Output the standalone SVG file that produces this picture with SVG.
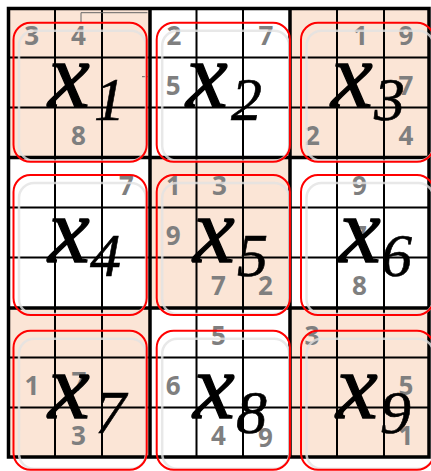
<svg xmlns="http://www.w3.org/2000/svg" width="431" height="471" viewBox="0 0 431 471">
<style>
.peach{fill:#FBE5D6}
.white{fill:#FFFFFF}
.thin{stroke:#000;stroke-width:2;fill:none}
.thick{stroke:#000;stroke-width:3.5;fill:none}
.d{font-family:"Open Sans","Liberation Sans",Arial,sans-serif;font-weight:bold;font-size:26px;fill:#7F7F7F;text-anchor:middle}
.red{fill:none;stroke:#FF0000;stroke-width:2}
.sh{fill:none;stroke:#E2E2E2;stroke-width:2.5;opacity:0.8}
.xv{font-family:"Liberation Serif","Times New Roman",serif;font-style:italic;font-size:94px;fill:#000;stroke:#000;stroke-width:1.3}
.xs{font-family:"Liberation Serif","Times New Roman",serif;font-style:italic;font-size:62px;fill:#000;stroke:#000;stroke-width:0.6}
.art{stroke:#666;stroke-width:1;fill:none}
</style>
<rect width="431" height="471" fill="#FFFFFF"/>
<g id="fills">
<rect class="peach" x="8.5" y="8.5" width="141.5" height="149"/>
<rect class="white" x="150" y="8.5" width="140" height="149"/>
<rect class="peach" x="290" y="8.5" width="139" height="149"/>
<rect class="white" x="8.5" y="157.5" width="141.5" height="150.5"/>
<rect class="peach" x="150" y="157.5" width="140" height="150.5"/>
<rect class="white" x="290" y="157.5" width="139" height="150.5"/>
<rect class="peach" x="8.5" y="308" width="141.5" height="149"/>
<rect class="white" x="150" y="308" width="140" height="149"/>
<rect class="peach" x="290" y="308" width="139" height="149"/>
</g>
<g id="grid">
<path class="thin" d="M55 8.5V457M102 8.5V457M196.5 8.5V457M243 8.5V457M337 8.5V457M384 8.5V457M8.5 57.5H429M8.5 107.5H429M8.5 207.5H429M8.5 257.5H429M8.5 357.5H429M8.5 407.5H429"/>
<path class="thick" d="M150 8.5V457M290 8.5V457M8.5 157.5H429M8.5 308H429"/>
<rect class="thick" x="8.5" y="8.5" width="420.5" height="448.5"/>
</g>
<g id="connectors">
<path class="art" d="M81 22.7V12.7H147.5M142 76.7H148"/>
</g>
<g id="box1">
<text class="d" x="31.75" y="45">3</text>
<text class="d" x="78.5" y="45">4</text>
<text class="d" x="78.5" y="145">8</text>
<rect class="sh" x="19" y="30.7" width="127" height="130" rx="15"/>
<rect class="red" x="13.5" y="22.7" width="133.2" height="139" rx="17"/>
<text class="xv" x="48" y="107">x</text>
<text class="xs" x="94" y="120">1</text>
</g>
<g id="box2">
<text class="d" x="174" y="45">2</text>
<text class="d" x="266" y="45">7</text>
<text class="d" x="173.25" y="95">5</text>
<rect class="sh" x="162.2" y="30.7" width="127" height="130" rx="15"/>
<rect class="red" x="156.7" y="22.7" width="133.3" height="139" rx="17"/>
<text class="xv" x="186" y="107">x</text>
<text class="xs" x="231" y="120">2</text>
</g>
<g id="box3">
<text class="d" x="360.5" y="45">1</text>
<text class="d" x="406" y="45">9</text>
<text class="d" x="406" y="95">7</text>
<text class="d" x="312.5" y="145">2</text>
<text class="d" x="406" y="145">4</text>
<rect class="sh" x="306.5" y="30.7" width="127" height="130" rx="15"/>
<rect class="red" x="301" y="22.7" width="133" height="139" rx="17"/>
<text class="xv" x="331" y="107">x</text>
<text class="xs" x="374" y="120">3</text>
</g>
<g id="box4">
<text class="d" x="126.5" y="195">7</text>
<rect class="sh" x="19" y="183" width="127" height="131" rx="15"/>
<rect class="red" x="13.5" y="175" width="133.2" height="140" rx="17"/>
<text class="xv" x="48" y="262">x</text>
<text class="xs" x="90" y="276">4</text>
</g>
<g id="box5">
<text class="d" x="173.5" y="195">1</text>
<text class="d" x="219.5" y="195">3</text>
<text class="d" x="173.25" y="245">9</text>
<text class="d" x="218.5" y="295">7</text>
<text class="d" x="265.5" y="295">2</text>
<rect class="sh" x="162.2" y="183" width="127" height="131" rx="15"/>
<rect class="red" x="156.7" y="175" width="133.3" height="140" rx="17"/>
<text class="xv" x="193" y="262">x</text>
<text class="xs" x="237" y="276">5</text>
</g>
<g id="box6">
<text class="d" x="359.5" y="195">9</text>
<text class="d" x="359.5" y="245">7</text>
<text class="d" x="359.5" y="295">8</text>
<rect class="sh" x="306.5" y="183" width="127" height="131" rx="15"/>
<rect class="red" x="301" y="175" width="133" height="140" rx="17"/>
<text class="xv" x="339" y="262">x</text>
<text class="xs" x="381" y="276">6</text>
</g>
<g id="box7">
<text class="d" x="32" y="395">1</text>
<text class="d" x="79" y="391">7</text>
<text class="d" x="78.5" y="445">3</text>
<rect class="sh" x="19" y="338.7" width="127" height="130" rx="15"/>
<rect class="red" x="13.5" y="330.7" width="133.2" height="139" rx="17"/>
<text class="xv" x="48" y="418">x</text>
<text class="xs" x="95" y="433">7</text>
</g>
<g id="box8">
<text class="d" x="218.5" y="345">5</text>
<text class="d" x="173.25" y="395">6</text>
<text class="d" x="218.5" y="445">4</text>
<text class="d" x="265.5" y="447">9</text>
<rect class="sh" x="162.2" y="338.7" width="127" height="130" rx="15"/>
<rect class="red" x="156.7" y="330.7" width="133.3" height="139" rx="17"/>
<text class="xv" x="193" y="418">x</text>
<text class="xs" x="236" y="433">8</text>
</g>
<g id="box9">
<text class="d" x="312" y="345">3</text>
<text class="d" x="406" y="395">5</text>
<text class="d" x="406" y="445">1</text>
<rect class="sh" x="306.5" y="338.7" width="127" height="130" rx="15"/>
<rect class="red" x="301" y="330.7" width="133" height="139" rx="17"/>
<text class="xv" x="336" y="418">x</text>
<text class="xs" x="380" y="433">9</text>
</g>
</svg>
